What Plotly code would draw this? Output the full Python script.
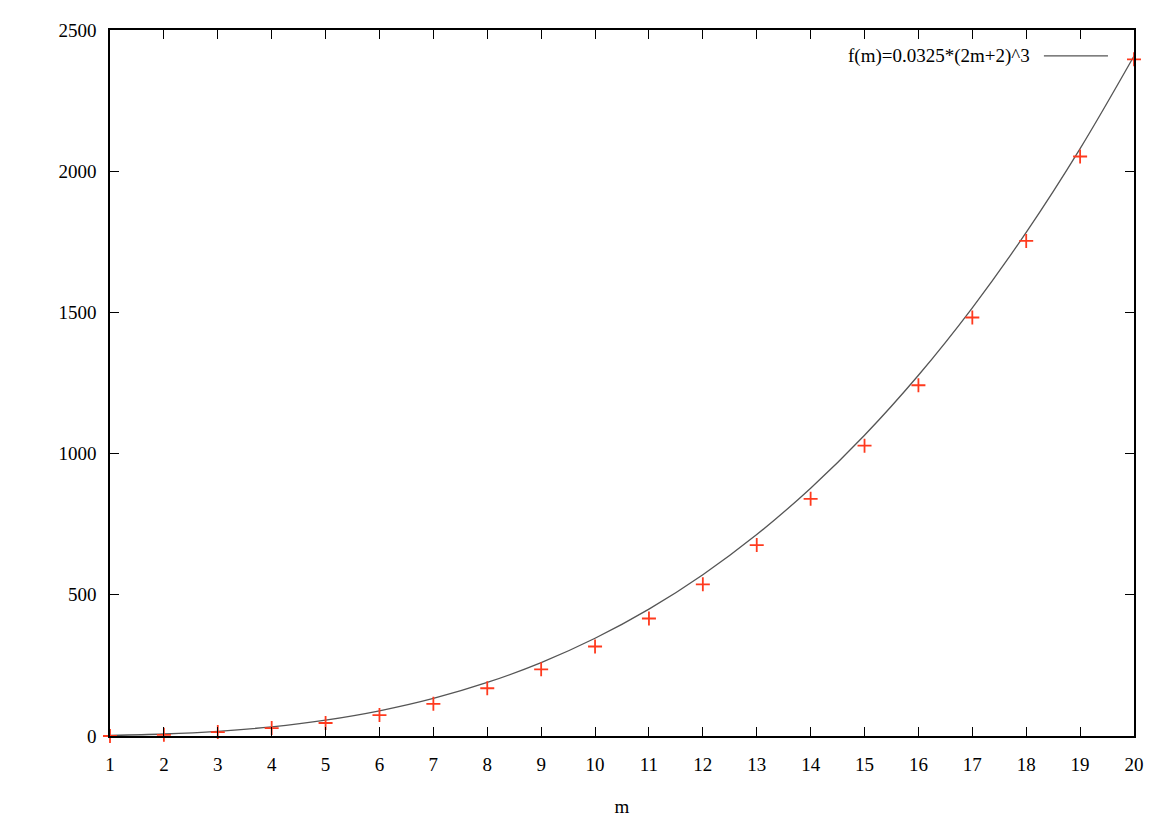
import plotly.graph_objects as go

# measured values (red crosses)
m = list(range(1, 21))
measured = [0, 4, 14, 28, 46, 74, 114, 169, 236, 317,
            416, 537, 676, 840, 1028, 1242, 1482, 1753, 2052, 2396]

# fitted curve f(m)=0.0325*(2m+2)^3, read at each integer m
fit = [2.1, 7.0, 16.6, 32.5, 56.2, 89.2, 133.1, 189.5, 260.0, 346.1,
       449.3, 571.2, 713.4, 877.5, 1065.0, 1277.4, 1516.3, 1783.3, 2080.0, 2407.9]

x_ticks = list(range(1, 21))
y_ticks = [0, 500, 1000, 1500, 2000, 2500]

font = "Liberation Serif, Times New Roman, serif"

fig = go.Figure()

fig.add_trace(go.Scatter(
    x=m, y=fit, mode="lines", line=dict(color="#555555", width=1.3, shape="spline"),
    name="f(m)=0.0325*(2m+2)^3",
))
fig.add_trace(go.Scatter(
    x=m, y=measured, mode="markers",
    marker=dict(symbol="cross-thin", size=10, line=dict(color="#ff3a1e", width=1.8)),
    cliponaxis=False, showlegend=False,
))

# legend drawn gnuplot-style: text then sample line (positions in plot-area fractions)
fig.add_annotation(
    xref="paper", yref="paper", x=(1031 - 110) / 1023, y=1 - (51 - 25) / 711,
    xanchor="right", yanchor="middle", showarrow=False,
    text="f(m)=0.0325*(2m+2)^3", font=dict(family=font, size=19, color="black"),
)
fig.add_shape(
    type="line", xref="paper", yref="paper",
    x0=(1043 - 110) / 1023, x1=(1107 - 110) / 1023,
    y0=1 - (51 - 25) / 711, y1=1 - (51 - 25) / 711,
    line=dict(color="#555555", width=1.3),
)

axis_common = dict(
    showgrid=False, zeroline=False, showline=True, linecolor="black", linewidth=1.5,
    mirror="ticks", ticks="inside", ticklen=9, tickwidth=1.3, tickcolor="black",
    tickfont=dict(family=font, size=19, color="black"),
)

fig.update_xaxes(range=[1, 20], tickvals=x_ticks, ticklabelstandoff=10,
                 title=dict(text="m", font=dict(family=font, size=19, color="black"), standoff=26),
                 **axis_common)
fig.update_yaxes(range=[0, 2500], tickvals=y_ticks, ticklabelstandoff=8, **axis_common)

# page body adds an 8px offset, so margins are shifted accordingly
fig.update_layout(
    width=1175, height=825,
    margin=dict(l=102, r=49, t=14, b=97),
    paper_bgcolor="white", plot_bgcolor="white",
    showlegend=False,
    font=dict(family=font),
)

fig.write_html("out.html")
